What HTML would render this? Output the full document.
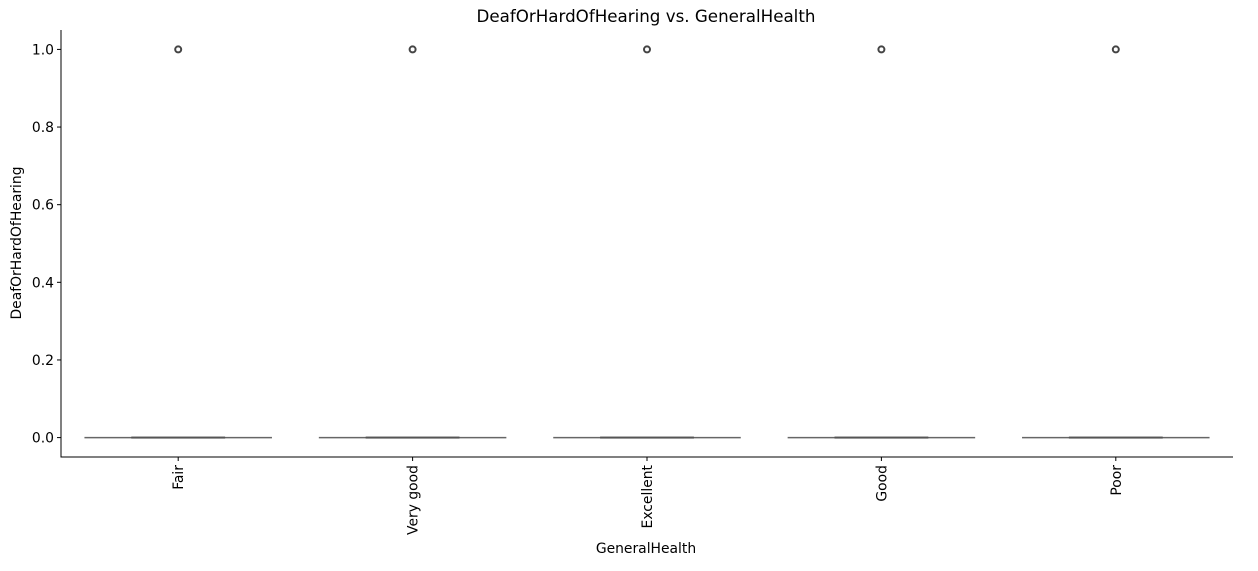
<!DOCTYPE html>
<html><head><meta charset="utf-8"><style>
body{margin:0;background:#fff}
text{font-family:"DejaVu Sans","Liberation Sans",sans-serif;fill:#000}
</style></head><body>
<svg width="1258" height="566" id="svg">
<text x="646" y="22" font-size="16.7" text-anchor="middle">DeafOrHardOfHearing vs. GeneralHealth</text>
<text x="646" y="553" font-size="13.9" text-anchor="middle">GeneralHealth</text>
<text transform="translate(21,243) rotate(-90)" font-size="13.9" text-anchor="middle">DeafOrHardOfHearing</text>
<g id="plot"></g>
<line x1="61" y1="30" x2="61" y2="457.5" stroke="#000" stroke-width="1"/>
<line x1="60.5" y1="457" x2="1233" y2="457" stroke="#000" stroke-width="1"/>
</svg>
<script>
const categories=["Fair","Very good","Excellent","Good","Poor"];
const q1=[0,0,0,0,0];
const median=[0,0,0,0,0];
const q3=[0,0,0,0,0];
const whiskLo=[0,0,0,0,0];
const whiskHi=[0,0,0,0,0];
const outliers=[[1],[1],[1],[1],[1]];
const yTicks=[0,0.2,0.4,0.6,0.8,1.0];
const L=61,R=1233,T=30,B=457,ymin=-0.05,ymax=1.05;
const band=(R-L)/categories.length;
const xs=i=>L+band*(i+0.5);
const ys=v=>B-(v-ymin)/(ymax-ymin)*(B-T);
const NS="http://www.w3.org/2000/svg";
const g=document.getElementById('plot');
function mk(t,a){const e=document.createElementNS(NS,t);for(const k in a)e.setAttribute(k,a[k]);g.appendChild(e);return e;}
yTicks.forEach(v=>{
 const l=mk('line',{x1:L-4,x2:L,y1:ys(v),y2:ys(v),stroke:'#000'});
 
 
 const t=mk('text',{x:L-7,y:ys(v)+5,'font-size':13.9,'text-anchor':'end'});
 t.textContent=v.toFixed(1);
 
 
});
categories.forEach((c,i)=>{
 const x=xs(i),w=band*0.8;
 const tk=mk('line',{x1:x,x2:x,y1:B,y2:B+4,stroke:'#000'});
 
 
 const t=mk('text',{transform:`translate(${x+5},${B+8}) rotate(-90)`,'font-size':13.9,'text-anchor':'end'});
 t.textContent=c;
 
 
 const wl=mk('line',{x1:x-w/2,x2:x+w/2,y1:ys(whiskLo[i]),y2:ys(whiskLo[i]),stroke:'#666','stroke-width':1.5});
 
 
 const bx=mk('rect',{x:x-w/4,y:ys(q3[i])-1,width:w/2,height:Math.max(2,ys(q1[i])-ys(q3[i])+2),fill:'#555'});
 
 
 const m=mk('line',{x1:x-w/4,x2:x+w/4,y1:ys(median[i]),y2:ys(median[i]),stroke:'#555','stroke-width':1.5});
 
 
 outliers[i].forEach(o=>{
  const p=mk('circle',{cx:x,cy:ys(o),r:3,fill:'none',stroke:'#444','stroke-width':2});
  
  
 });
});
</script>
</body></html>
